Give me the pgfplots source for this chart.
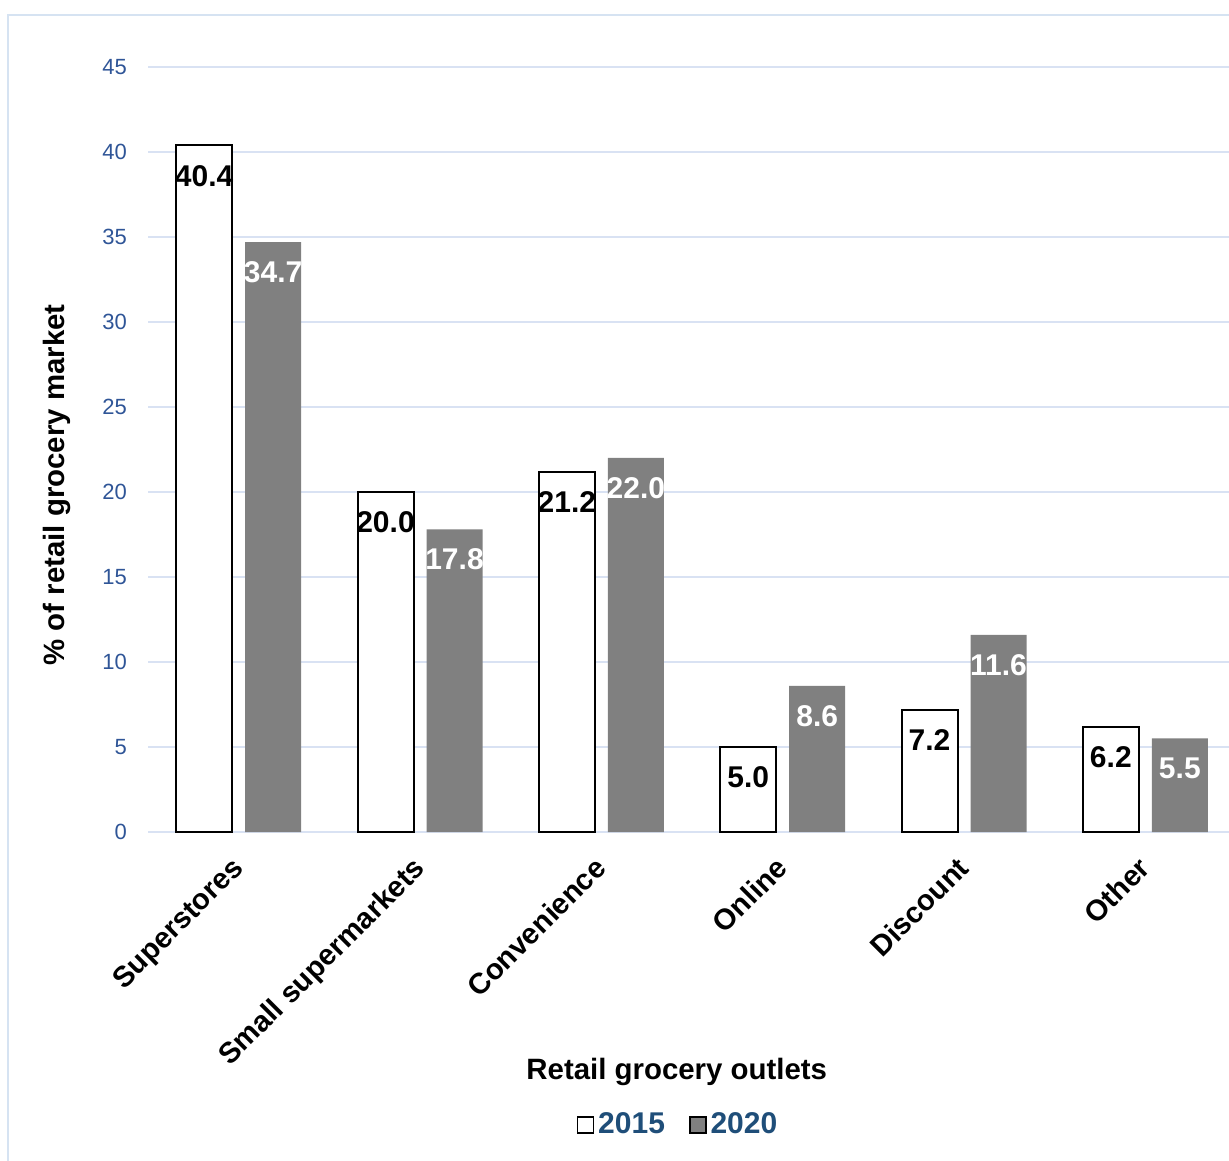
\documentclass[border=0pt]{standalone}
\usepackage{fontspec}
\setmainfont{Liberation Sans}
\usepackage{pgfplots}
\pgfplotsset{compat=1.18}
\definecolor{gridc}{RGB}{217,226,243}
\definecolor{tickc}{RGB}{47,85,151}
\definecolor{legc}{RGB}{31,78,121}
\definecolor{barg}{RGB}{128,128,128}
\definecolor{borderc}{RGB}{214,227,242}
\begin{document}
\begin{tikzpicture}
\path[use as bounding box] (0,0) rectangle (614.5pt,580pt);
\draw[borderc, line width=1pt] (4pt,-20pt) rectangle (700pt,572.5pt);
\begin{axis}[
  at={(74pt,164pt)}, anchor=south west,
  scale only axis, width=544pt, height=382.5pt,
  xmin=-0.5, xmax=5.5, ymin=0, ymax=45,
  ytick={0,5,...,45},
  xtick={0,...,5},
  xticklabels={Superstores,Small supermarkets,Convenience,Online,Discount,Other},
  xticklabel style={rotate=45, anchor=north east, font=\bfseries\fontsize{14.6}{16}\selectfont, inner sep=0pt, xshift=-11pt, yshift=-5pt},
  yticklabel style={font=\fontsize{11}{13}\selectfont, text=tickc, xshift=-7pt},
  /pgf/number format/assume math mode=true,
  axis line style={draw=none},
  ymajorgrids, grid style={gridc, line width=1pt},
  major tick length=0pt,
  clip=false,
  ybar, bar width=28pt,
  xlabel={Retail grocery outlets},
  xlabel style={at={(axis description cs:0.486,-0.3137)}, anchor=center, font=\bfseries\fontsize{14.7}{16}\selectfont},
  ylabel={\% of retail grocery market},
  ylabel style={at={(axis description cs:-0.0836,0.4536)}, anchor=center, font=\bfseries\fontsize{14.7}{16}\selectfont},
  legend style={at={(axis description cs:0.488,-0.383)}, anchor=center, draw=none, legend columns=2,
    font=\bfseries\fontsize{15}{17}\selectfont, text=legc,
    /tikz/every even column/.append style={column sep=10pt}},
  legend image code/.code={\draw[#1, line width=0.8pt] (1pt,-4pt) rectangle (9pt,4pt);},
  nodes near coords,
  nodes near coords style={/pgf/number format/fixed, /pgf/number format/fixed zerofill, /pgf/number format/precision=1, /pgf/number format/assume math mode=true},
  every node near coord/.append style={anchor=north, yshift=-9.5pt, inner sep=0pt, font=\bfseries\fontsize{15}{17}\selectfont},
]
\addplot[ybar, bar shift=-17.25pt, fill=white, draw=black, line width=1pt,
  every node near coord/.append style={text=black}]
  coordinates {(0,40.4) (1,20.0) (2,21.2) (3,5.0) (4,7.2) (5,6.2)};
\addplot[ybar, bar shift=17.25pt, fill=barg, draw=none,
  every node near coord/.append style={text=white}]
  coordinates {(0,34.7) (1,17.8) (2,22.0) (3,8.6) (4,11.6) (5,5.5)};
\legend{2015,2020}
\end{axis}
\end{tikzpicture}
\end{document}
